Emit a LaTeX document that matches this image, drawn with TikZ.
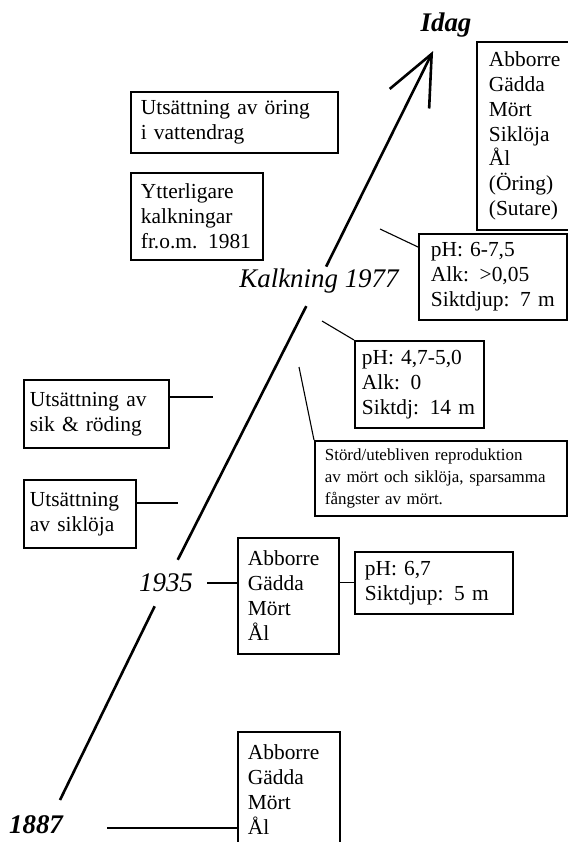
\documentclass[tikz,border=0pt]{standalone}
\usepackage{fontspec}
\setmainfont{Liberation Serif}
\usetikzlibrary{arrows.meta}

\begin{document}
\begin{tikzpicture}[
  x=1bp, y=-1bp,
  box/.style={
    rectangle,
    draw,
    anchor=north west,
    line width=1.8bp,
    align=left,
    inner xsep=10bp,
    inner ysep=0bp,
    font=\fontsize{21.5}{25}\selectfont
  },
  small/.style={font=\fontsize{17}{22}\selectfont},
  year/.style={font=\fontsize{27}{30}\selectfont\itshape, inner sep=2bp},
  yearbf/.style={year, font=\fontsize{27}{30}\selectfont\bfseries\itshape},
  conn/.style={line width=1.1bp},
  timeline/.style={line width=2.6bp}
]
\useasboundingbox (0,0) rectangle (568,842);
\clip (0,0) rectangle (568,842);

% --- time axis labels ---
\node[yearbf] (idag) at (446,25) {Idag};
\node[year] (kalk) at (319,281) {Kalkning 1977};
\node[year, inner sep=14bp] (y1935) at (166,583) {1935};
\node[yearbf] (y1887) at (36,825) {1887};
\coordinate (start) at (60,800);

\draw[timeline] (start) -- (y1935);
\draw[timeline, shorten >=12bp] (y1935) -- (kalk);
\draw[timeline, -{Straight Barb[length=50bp,width=44bp]}, shorten >=13bp] (kalk) -- (idag);

% --- left side: stocking and liming ---
\node[box, text width=187bp, minimum height=61bp] (oring) at (130,91)
  {Utsättning av öring\\i vattendrag};
\node[box, text width=112bp, minimum height=87bp] (ytter) at (130,172)
  {Ytterligare\\kalkningar\\fr.o.m. 1981};
\node[box, inner xsep=6bp, text width=133bp, minimum height=68bp] (sik) at (23,379)
  {Utsättning av\\sik \& röding};
\node[box, inner xsep=6bp, text width=100bp, minimum height=68bp] (siklo) at (23,479)
  {Utsättning\\av siklöja};

\coordinate (csik) at (213,397);
\coordinate (csiklo) at (178,503);
\draw[conn] (csik -| sik.east) -- (csik);
\draw[conn] (csiklo -| siklo.east) -- (csiklo);

% --- right side: fish and water ---
\node[box, inner xsep=12bp, text width=106bp, minimum height=188bp] (idagfisk) at (476,41)
  {Abborre\\Gädda\\Mört\\Siklöja\\Ål\\(Öring)\\(Sutare)};
\node[box, inner xsep=12bp, text width=124bp, minimum height=86bp] (ph1) at (418,233)
  {pH: 6-7,5\\Alk: >0,05\\Siktdjup: 7 m};
\node[box, inner xsep=7bp, text width=115bp, minimum height=87bp] (ph2) at (354,340)
  {pH: 4,7-5,0\\Alk: 0\\Siktdj: 14 m};
\node[box, small, text width=232bp, minimum height=75bp] (stord) at (314,440)
  {\makebox[\linewidth][s]{Störd/utebliven reproduktion}\\
   \makebox[\linewidth][s]{av mört och siklöja, sparsamma}\\
   fångster av mört.};

\coordinate (cph1) at (380,229);
\coordinate (cph2) at (322,321);
\coordinate (cstord) at (299,367);
\draw[conn] (cph1) -- ([yshift=-14bp]ph1.north west);
\draw[conn] (cph2) -- (ph2.north west);
\draw[conn] (cstord) -- (stord.north west);

% --- 1935 ---
\node[box, text width=81bp, minimum height=116bp] (fisk1935) at (237,537)
  {Abborre\\Gädda\\Mört\\Ål};
\node[box, text width=138bp, minimum height=62bp] (ph3) at (354,551)
  {pH: 6,7\\Siktdjup: 5 m};
\draw[conn] (y1935.east) -- (y1935.east -| fisk1935.west);
\draw[conn] (ph3.west -| fisk1935.east) -- (ph3.west);

% --- 1887 ---
\node[box, text width=82bp, minimum height=116bp] (fisk1887) at (237,731)
  {Abborre\\Gädda\\Mört\\Ål};
\coordinate (c1887) at (107,828);
\draw[conn] (c1887) -- (c1887 -| fisk1887.west);

\end{tikzpicture}
\end{document}
